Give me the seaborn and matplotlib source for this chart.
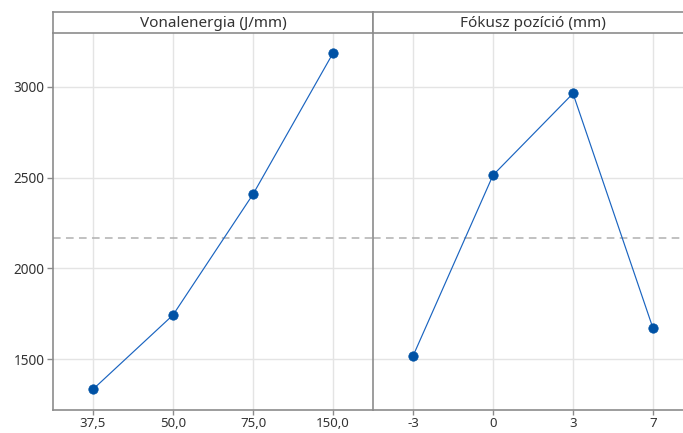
import numpy as np
import pandas as pd
import matplotlib
matplotlib.use("Agg")
import matplotlib.pyplot as plt
import seaborn as sns

# Data
factor1_title = "Vonalenergia (J/mm)"
factor1_levels = ["37,5", "50,0", "75,0", "150,0"]
factor1_means = [1334, 1743, 2408, 3185]

factor2_title = "Fókusz pozíció (mm)"
factor2_levels = ["-3", "0", "3", "7"]
factor2_means = [1517, 2513, 2963, 1670]

y_ticks = [1500, 2000, 2500, 3000]

sns.set_theme(style="white")
plt.rcParams["font.family"] = ["Noto Sans", "DejaVu Sans"]

grand_mean = np.mean(factor1_means + factor2_means)

fig = plt.figure(figsize=(6.83, 4.33), dpi=100)
W, H = 683, 433
x0 = 53
pw = 320
y_top = 33
y_bot = 410
strip_top = 12

def fx(px):
    return px / W

def fy(py):
    return (H - py) / H

panels = [
    (factor1_title, factor1_levels, factor1_means),
    (factor2_title, factor2_levels, factor2_means),
]

gray = "#8c8c8c"
line_col = "#1a64c0"
mark_col = "#0052a5"
axes = []
for i, (title, levels, means) in enumerate(panels):
    left = x0 + i * pw
    ax = fig.add_axes([fx(left), fy(y_bot), fx(pw), fy(y_top) - fy(y_bot)])
    df = pd.DataFrame({"level": levels, "mean": means})
    ax.axhline(grand_mean, color="#b0b0b0", lw=1.1, ls=(0, (5, 3.5)), zorder=1)
    sns.pointplot(data=df, x="level", y="mean", order=levels, color=line_col,
                  markers="o", linestyles="-", ax=ax, markersize=0.0001,
                  linewidth=0.85, zorder=3)
    ax.scatter(range(len(levels)), means, s=46, color=mark_col, zorder=4,
               edgecolor=mark_col, linewidth=0.5)
    ax.set_xlim(-0.5, len(levels) - 0.5)
    ax.set_ylim(1220, 3296)
    ax.set_yticks(y_ticks)
    ax.set_xlabel("")
    ax.set_ylabel("")
    ax.grid(True, color="#e4e4e4", lw=1.0, zorder=0)
    ax.set_axisbelow(True)
    for s in ["top", "right"]:
        ax.spines[s].set_visible(False)
    ax.spines["bottom"].set_color(gray)
    ax.spines["bottom"].set_linewidth(1.2)
    ax.spines["left"].set_color(gray)
    ax.spines["left"].set_linewidth(1.2)
    ax.tick_params(axis="x", which="both", bottom=True, length=3.5, width=1,
                   color=gray, labelsize=9.5, labelcolor="#333333", pad=1.5)
    if i == 0:
        ax.tick_params(axis="y", left=True, length=4, width=1, color=gray,
                       labelsize=9.8, labelcolor="#333333", pad=2)
        ax.set_yticklabels([str(t) for t in y_ticks])
    else:
        ax.tick_params(axis="y", left=False, labelleft=False)
    # strip
    sax = fig.add_axes([fx(left), fy(y_top), fx(pw), fy(strip_top) - fy(y_top)])
    sax.set_xticks([])
    sax.set_yticks([])
    sax.set_facecolor("white")
    for s in ["top", "bottom", "left", "right"]:
        sax.spines[s].set_color(gray)
        sax.spines[s].set_linewidth(1.2)
    sax.text(0.5, 0.45, title, ha="center", va="center", fontsize=11,
             color="#333333", transform=sax.transAxes)
    axes.append(ax)

fig.savefig("out.png", dpi=100, facecolor="white")
